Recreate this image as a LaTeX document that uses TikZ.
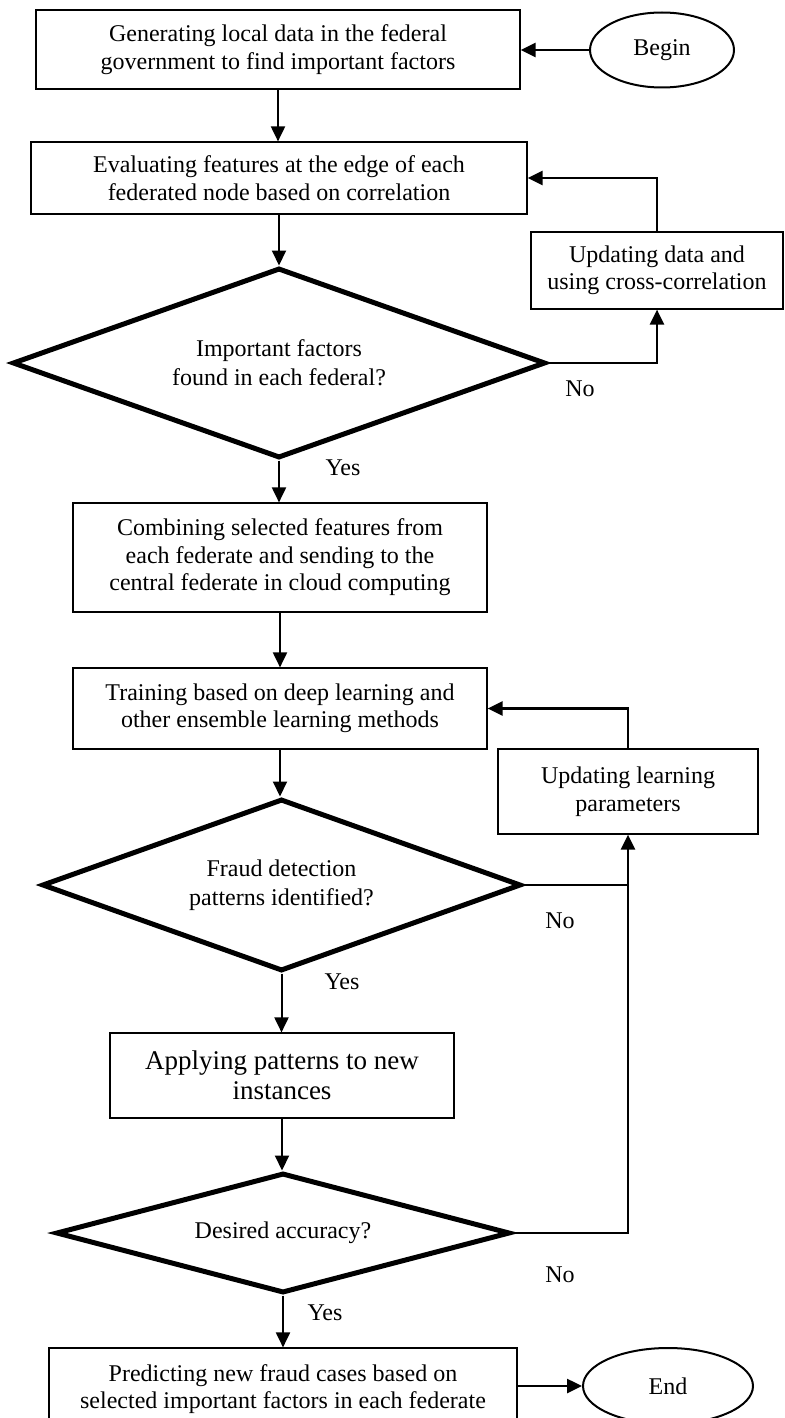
\documentclass[tikz,border=0pt]{standalone}
\usepackage{fontspec}
\setmainfont{Liberation Serif}
\usetikzlibrary{shapes.geometric,arrows.meta}

\begin{document}
\begin{tikzpicture}[x=0.5pt,y=-0.5pt,
  box/.style={draw,line width=0.6pt,rectangle,inner sep=0pt,align=center,
    font=\fontsize{12}{13.75}\selectfont},
  decision/.style={draw,line width=2.5pt,diamond,inner sep=0pt,align=center,
    font=\fontsize{12}{14.5}\selectfont},
  terminal/.style={draw,line width=1pt,ellipse,inner sep=0pt,
    font=\fontsize{12}{13.75}\selectfont},
  flow/.style={line width=1pt,-{Triangle[length=7.5pt,width=7pt]}},
  loopline/.style={line width=1.3pt},
  lbl/.style={font=\fontsize{12}{13.75}\selectfont}]
  \useasboundingbox (0,0) rectangle (784,1418);

  % start
  \node[terminal,minimum width=72pt,minimum height=37.5pt] (begin) at (662,50) {Begin};
  \node[box,minimum width=242pt,minimum height=39.5pt] (gen) at (278,49.5)
    {Generating local data in the federal\\government to find important factors};
  \node[box,minimum width=248pt,minimum height=36pt] (eval) at (279,178)
    {Evaluating features at the edge of each\\federated node based on correlation};
  \node[box,minimum width=126pt,minimum height=38.5pt] (upd1) at (657,270.5)
    {Updating data and\\using cross-correlation};
  \node[decision,aspect=2.8,minimum width=266.5pt,minimum height=95pt] (dia1) at (279,363)
    {Important factors\\found in each federal?};

  % central part
  \node[box,minimum width=207pt,minimum height=54.5pt] (comb) at (280,557.5)
    {Combining selected features from\\each federate and sending to the\\central federate in cloud computing};
  \node[box,minimum width=207pt,minimum height=40.5pt] (train) at (280,708.5)
    {Training based on deep learning and\\other ensemble learning methods};
  \node[box,minimum width=130pt,minimum height=42.5pt] (upd2) at (628,791.5)
    {Updating learning\\parameters};
  \node[decision,aspect=2.78,minimum width=239.5pt,minimum height=86pt] (dia2) at (281.5,885)
    {Fraud detection\\patterns identified?};
  \node[box,minimum width=172pt,minimum height=42.5pt,
    font=\fontsize{13.5}{15}\selectfont] (apply) at (282,1075.5)
    {Applying patterns to new\\instances};
  \node[decision,aspect=3.78,minimum width=227pt,minimum height=60pt] (dia3) at (283,1233)
    {Desired accuracy?};

  % end
  \node[box,minimum width=234pt,minimum height=41pt] (pred) at (283,1389)
    {Predicting new fraud cases based on\\selected important factors in each federate};
  \node[terminal,minimum width=85pt,minimum height=38pt] (end) at (668,1386) {End};

  % answers
  \node[lbl] (no1) at (580,389) {No};
  \node[lbl] (yes1) at (343,468) {Yes};
  \node[lbl] (no2) at (560,921) {No};
  \node[lbl] (yes2) at (342,982) {Yes};
  \node[lbl] (no3) at (560,1275) {No};
  \node[lbl] (yes3) at (325,1313) {Yes};

  % connectors
  \draw[flow,line width=1.3pt] (begin.west) -- (begin.west -| gen.east);
  \draw[flow] (gen.south) -- (gen.south |- eval.north);
  \draw[flow] (eval.south) -- (eval.south |- dia1.north);
  \draw[flow,loopline] (dia1.east) -| (upd1.south);
  \draw[flow,loopline] (upd1.north) |- (eval.east);
  \draw[flow] (dia1.south) -- (dia1.south |- comb.north);
  \draw[flow] (comb.south) -- (comb.south |- train.north);
  \draw[flow] (train.south) -- (train.south |- dia2.north);
  \draw[flow,loopline] (upd2.north) |- (train.east);
  \draw[loopline] (dia2.east) -- (dia2.east -| upd2.south);
  \draw[flow,loopline] (dia3.east) -| (upd2.south);
  \draw[flow] (dia2.south) -- (dia2.south |- apply.north);
  \draw[flow] (apply.south) -- (apply.south |- dia3.north);
  \draw[flow] (dia3.south) -- (dia3.south |- pred.north);
  \draw[flow,line width=1.3pt] (end.west -| pred.east) -- (end.west);
\end{tikzpicture}
\end{document}
